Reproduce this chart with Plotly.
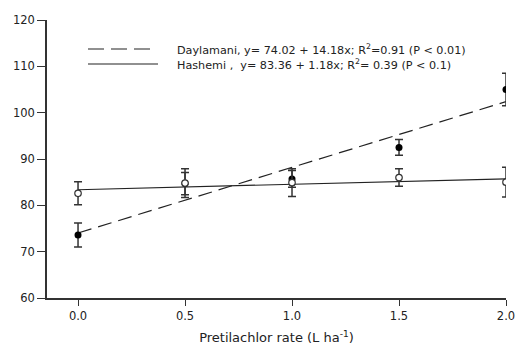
import plotly.graph_objects as go

rates = [0.0, 0.5, 1.0, 1.5, 2.0]
daylamani = [73.6, 84.7, 85.7, 92.5, 105.0]
daylamani_err = [2.6, 2.4, 1.8, 1.7, 3.5]
hashemi = [82.6, 84.8, 84.9, 86.0, 85.0]
hashemi_err = [2.5, 3.1, 3.0, 1.9, 3.2]

fit_x = [0.0, 2.0]
day_coef = (74.02, 14.18)
has_coef = (83.36, 1.18)

legend_texts = [
    "Daylamani, y= 74.02 + 14.18x; R<sup>2</sup>=0.91 (P < 0.01)",
    "Hashemi ,  y= 83.36 + 1.18x; R<sup>2</sup>= 0.39 (P < 0.1)",
]

FONT = "DejaVu Sans, Verdana, sans-serif"
INK = "#222222"

fig = go.Figure()

fig.add_trace(go.Scatter(
    x=fit_x, y=[day_coef[0] + day_coef[1] * v for v in fit_x],
    mode="lines", line=dict(color=INK, width=1.2, dash="14px,7px"),
    showlegend=False, hoverinfo="skip"))
fig.add_trace(go.Scatter(
    x=fit_x, y=[has_coef[0] + has_coef[1] * v for v in fit_x],
    mode="lines", line=dict(color=INK, width=1.2),
    showlegend=False, hoverinfo="skip"))

fig.add_trace(go.Scatter(
    x=rates, y=daylamani, mode="markers",
    error_y=dict(type="data", array=daylamani_err, color="#333333", thickness=1.5, width=4),
    marker=dict(color="black", size=7, symbol="circle"),
    showlegend=False))
fig.add_trace(go.Scatter(
    x=rates, y=hashemi, mode="markers",
    error_y=dict(type="data", array=hashemi_err, color="#333333", thickness=1.5, width=4),
    marker=dict(color="white", size=6.5, symbol="circle", line=dict(color="#333333", width=1.2)),
    showlegend=False))

# legend drawn as lines + text
fig.add_shape(type="line", xref="paper", yref="paper", x0=(88 - 47) / 459, x1=(152 - 47) / 459,
              y0=(298 - 49) / 278, y1=(298 - 49) / 278,
              line=dict(color=INK, width=1.2, dash="16px,7px"))
fig.add_shape(type="line", xref="paper", yref="paper", x0=(88 - 47) / 459, x1=(158 - 47) / 459,
              y0=(298 - 64) / 278, y1=(298 - 64) / 278,
              line=dict(color=INK, width=1.2))
for i, t in enumerate(legend_texts):
    fig.add_annotation(xref="paper", yref="paper", x=(175 - 47) / 459, y=(298 - (49 + 15 * i)) / 278,
                       text=t, showarrow=False, xanchor="left", yanchor="middle",
                       font=dict(family=FONT, size=11.2, color=INK))

fig.update_layout(
    width=516, height=345,
    margin=dict(l=47, r=10, t=20, b=47),
    paper_bgcolor="white", plot_bgcolor="white",
    font=dict(family=FONT, size=11, color=INK),
)
fig.update_xaxes(
    range=[-0.145, 2.0], tickvals=rates, ticktext=["0.0", "0.5", "1.0", "1.5", "2.0"],
    showline=True, linecolor="#333333", linewidth=1.5, ticks="outside", ticklen=6,
    tickcolor="#333333", showgrid=False, zeroline=False, automargin=False,
    tickfont=dict(family=FONT, size=11.5, color=INK),
    title=dict(text="Pretilachlor rate (L ha<sup>-1</sup>)", font=dict(family=FONT, size=13, color=INK), standoff=15),
)
fig.update_yaxes(
    range=[60, 120], tickvals=[60, 70, 80, 90, 100, 110, 120],
    showline=True, linecolor="#333333", linewidth=1.5, ticks="outside", ticklen=8,
    tickcolor="#333333", showgrid=False, zeroline=False, automargin=False,
    tickfont=dict(family=FONT, size=11.5, color=INK),
)

fig.write_html("out.html")
